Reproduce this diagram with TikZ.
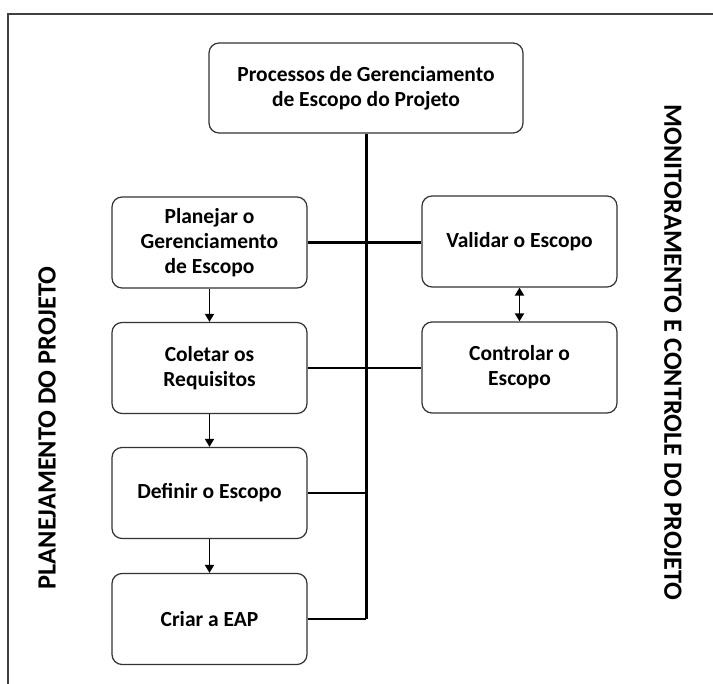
\documentclass[tikz,border=0pt]{standalone}
\usepackage{fontspec}
\setmainfont{Carlito}
\usetikzlibrary{arrows.meta}
\tikzset{proc/.style={draw=black!80,line width=1.2pt,rounded corners=10pt,
           minimum width=195pt,minimum height=91pt,align=center,
           font=\bfseries\fontsize{21.5}{25}\selectfont},
         link/.style={line width=2.2pt},
         flow/.style={line width=1.8pt,-{Triangle[width=9pt,length=8pt]}},
         phase/.style={font=\bfseries\fontsize{26.3}{30}\selectfont,inner sep=0pt}}
\begin{document}
\begin{tikzpicture}[x=1pt,y=-1pt]
\useasboundingbox (0,0) rectangle (713,684);
\draw[black!75,line width=1.2pt] (713,14) -- (8,14) -- (8,684);
% processes
\node[proc,minimum width=314pt,minimum height=90pt] (top) at (366,88) {Processos de Gerenciamento\\de Escopo do Projeto};
\node[proc] (plan) at (209.5,242.5) {Planejar o\\Gerenciamento\\de Escopo};
\node[proc] (col) at (209.5,368) {Coletar os\\Requisitos};
\node[proc] (def) at (209.5,493) {Definir o Escopo};
\node[proc] (eap) at (209.5,619) {Criar a EAP};
\node[proc] (val) at (519.5,241.5) {Validar o Escopo};
\node[proc] (ctrl) at (519.5,367.5) {Controlar o\\Escopo};
% trunk
\draw[line width=3pt] (top.south) -- (top.south |- eap.east);
\draw[link] (eap.east) -- (top.south |- eap.east);
\draw[link] (def.east) -- (top.south |- def.east);
\draw[link] (plan.east) -- (val.west |- plan.east);
\draw[link] (col.east) -- (ctrl.west |- col.east);
% arrows
\draw[flow] (plan) -- (col);
\draw[flow] (col) -- (def);
\draw[flow] (def) -- (eap);
\draw[line width=1.8pt,{Triangle[width=9pt,length=8pt]}-{Triangle[width=9pt,length=8pt]}] (val) -- (ctrl);
% phases
\node[phase,rotate=90] (plano) at (47,428) {PLANEJAMENTO DO PROJETO};
\node[phase,rotate=-90] (monit) at (673,352.5) {MONITORAMENTO E CONTROLE DO PROJETO};
\end{tikzpicture}
\end{document}
